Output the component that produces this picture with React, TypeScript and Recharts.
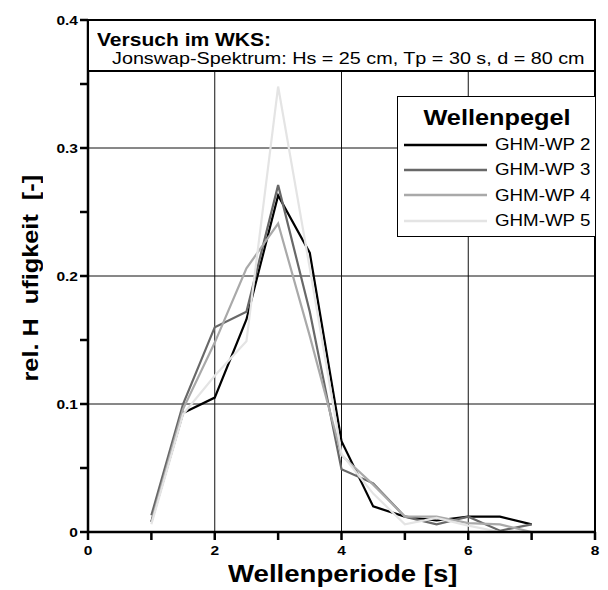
import { LineChart, Line, XAxis, YAxis, CartesianGrid } from 'recharts';

// wave periods [s]
const periods = [1, 1.5, 2, 2.5, 3, 3.5, 4, 4.5, 5, 5.5, 6, 6.5, 7];

// relative frequency per wave gauge
const wp2 = [0.008, 0.093, 0.105, 0.166, 0.263, 0.218, 0.071, 0.020, 0.012, 0.009, 0.012, 0.012, 0.006];
const wp3 = [0.013, 0.100, 0.160, 0.172, 0.271, 0.172, 0.049, 0.038, 0.012, 0.006, 0.012, 0.001, 0.006];
const wp4 = [0.008, 0.096, 0.148, 0.206, 0.241, 0.153, 0.060, 0.037, 0.012, 0.012, 0.007, 0.006, 0.000];
const wp5 = [0.006, 0.092, 0.122, 0.149, 0.348, 0.206, 0.061, 0.030, 0.006, 0.011, 0.005, 0.000, 0.000];

const xTicks = [0, 1, 2, 3, 4, 5, 6, 7, 8];
const yTicks = [0, 0.05, 0.1, 0.15, 0.2, 0.25, 0.3, 0.35, 0.4];
const xGrid = [2, 4, 6, 8];
const yGrid = [0.1, 0.2, 0.3, 0.4];

const series = [
    { key: 'wp2', name: 'GHM-WP 2', color: '#000000' },
    { key: 'wp3', name: 'GHM-WP 3', color: '#686868' },
    { key: 'wp4', name: 'GHM-WP 4', color: '#a9a9a9' },
    { key: 'wp5', name: 'GHM-WP 5', color: '#e4e4e4' },
];

const data = periods.map((p, i) => ({ period: p, wp2: wp2[i], wp3: wp3[i], wp4: wp4[i], wp5: wp5[i] }));

const FONT = 'Arial, "Liberation Sans", Helvetica, sans-serif';
const SX = 1.15; // the original lettering is a bit wider than Arial
const GAP = 10; // tickSize 8 + default tickMargin 2

// tick marks come from recharts' tickLine, these only draw the labels
function XTick({ x, y, payload }: any) {
    const v = payload.value;
    if (v % 2 !== 0) return <g />;
    return (
        <text transform={`translate(${x},${y - GAP + 23}) scale(${SX},1)`} textAnchor="middle"
            fontFamily={FONT} fontWeight={700} fontSize={13.5} fill="#000">{v}</text>
    );
}

function YTick({ x, y, payload }: any) {
    const v = payload.value;
    if (Math.round(v * 100) % 10 !== 0) return <g />;
    return (
        <text transform={`translate(${x + GAP - 10},${y + 5}) scale(${SX},1)`} textAnchor="end"
            fontFamily={FONT} fontWeight={700} fontSize={13.5} fill="#000">{v === 0 ? '0' : v.toFixed(1)}</text>
    );
}

const stretched = (origin: string) => ({
    display: 'inline-block',
    transform: `scaleX(${SX})`,
    transformOrigin: origin,
    whiteSpace: 'nowrap' as const,
});

function LegendBox() {
    return (
        <div style={{
            position: 'absolute',
            left: 397,
            top: 96,
            width: 199,
            height: 141,
            boxSizing: 'border-box',
            border: '1.5px solid #000',
            background: '#fff',
            fontFamily: FONT,
            color: '#000',
        }}>
            <div style={{ position: 'absolute', left: 0, right: 0, top: 10, textAlign: 'center', fontSize: 22, lineHeight: '22px', fontWeight: 'bold' }}>
                <span style={stretched('center')}>Wellenpegel</span>
            </div>
            {series.map((s, i) => (
                <div key={s.key} style={{
                    position: 'absolute', left: 0, top: 35 + i * 25.4, height: 25.4,
                    display: 'flex', alignItems: 'center',
                }}>
                    <svg width={83} height={4} style={{ marginLeft: 5.5, display: 'block' }}>
                        <line x1={0} x2={83} y1={2} y2={2} stroke={s.color} strokeWidth={2.5} />
                    </svg>
                    <span style={{ ...stretched('left'), marginLeft: 8, fontSize: 16.3, lineHeight: '25.4px' }}>{s.name}</span>
                </div>
            ))}
        </div>
    );
}

export default function App() {
    return (
        <div style={{ position: 'absolute', left: 0, top: 0, width: 608, height: 590, background: '#fff' }}>
            <LineChart width={608} height={590} data={data} margin={{ top: 20, right: 13, bottom: 0, left: 0 }}>
                <CartesianGrid stroke="#111" verticalValues={xGrid} horizontalValues={yGrid} />
                <XAxis
                    dataKey="period"
                    type="number"
                    domain={[0, 8]}
                    ticks={xTicks}
                    interval={0}
                    height={58}
                    tickSize={8}
                    tick={<XTick />}
                    axisLine={{ stroke: '#000', strokeWidth: 2.5 }}
                    tickLine={{ stroke: '#000', strokeWidth: 2.5 }}
                />
                <YAxis
                    type="number"
                    domain={[0, 0.4]}
                    ticks={yTicks}
                    interval={0}
                    width={88}
                    tickSize={8}
                    tick={<YTick />}
                    axisLine={{ stroke: '#000', strokeWidth: 2.5 }}
                    tickLine={{ stroke: '#000', strokeWidth: 2.5 }}
                />
                {series.map((s) => (
                    <Line
                        key={s.key}
                        type="linear"
                        dataKey={s.key}
                        name={s.name}
                        stroke={s.color}
                        strokeWidth={2.2}
                        dot={false}
                        activeDot={false}
                        isAnimationActive={false}
                    />
                ))}
            </LineChart>
            {/* frame top and right */}
            <div style={{ position: 'absolute', left: 87, top: 19, width: 509, height: 514, boxSizing: 'border-box', borderTop: '2.5px solid #000', borderRight: '2.5px solid #000', pointerEvents: 'none' }} />
            {/* header box */}
            <div style={{
                position: 'absolute',
                left: 89,
                top: 21,
                width: 505,
                height: 51,
                boxSizing: 'border-box',
                borderBottom: '2px solid #000',
                background: '#fff',
                fontFamily: FONT,
                color: '#000',
            }}>
                <span style={{ ...stretched('left'), position: 'absolute', left: 8, top: 10, fontSize: 18.3, lineHeight: '18.3px', fontWeight: 'bold' }}>
                    Versuch im WKS:
                </span>
                <span style={{ ...stretched('left'), position: 'absolute', left: 23, top: 29.4, fontSize: 17.2, lineHeight: '17.2px' }}>
                    Jonswap-Spektrum: Hs = 25 cm, Tp = 30 s, d = 80 cm
                </span>
            </div>
            <LegendBox />
            {/* axis titles */}
            <div style={{ position: 'absolute', left: 143, width: 400, top: 562, textAlign: 'center', fontFamily: FONT, fontWeight: 'bold', fontSize: 24, lineHeight: '24px', color: '#000' }}>
                <span style={stretched('center')}>Wellenperiode [s]</span>
            </div>
            <div style={{
                position: 'absolute', left: 31 - 200, top: 278 - 12, width: 400, height: 24,
                transform: 'rotate(-90deg)', transformOrigin: '200px 12px',
                textAlign: 'center', fontFamily: FONT, fontWeight: 'bold', fontSize: 22, lineHeight: '24px', color: '#000',
            }}>
                <span style={{ ...stretched('center'), whiteSpace: 'pre' }}>{'rel. H  ufigkeit  [-]'}</span>
            </div>
        </div>
    );
}
